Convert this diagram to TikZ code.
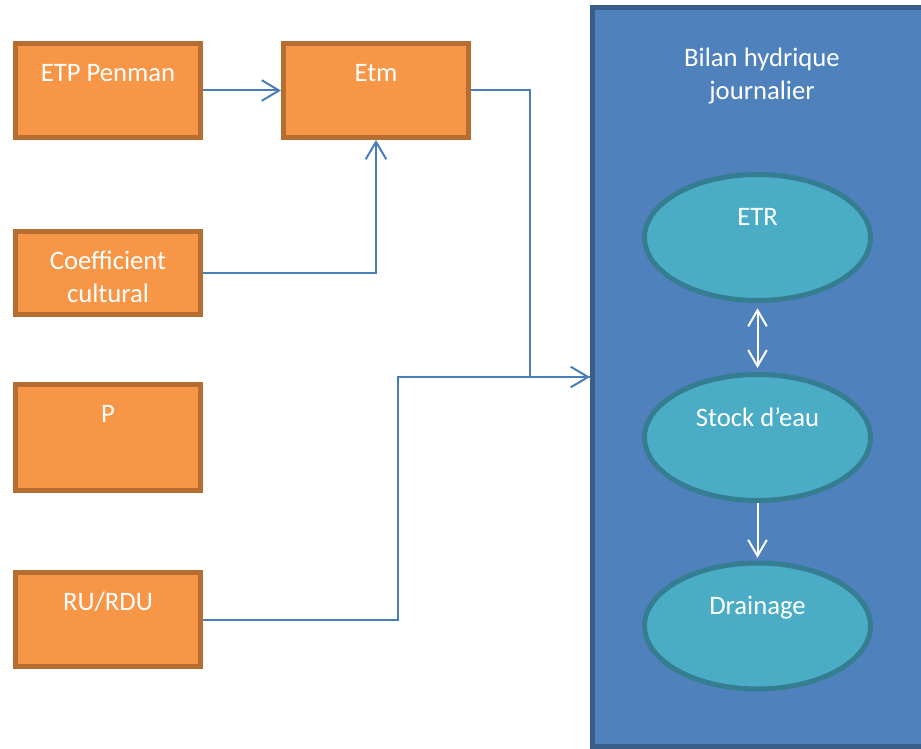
\documentclass[tikz,border=0pt]{standalone}
\usepackage{fontspec}
\setmainfont{Carlito}
\usetikzlibrary{arrows.meta,shapes.geometric}
\definecolor{orfill}{HTML}{F79646}
\definecolor{ordraw}{HTML}{B66D31}
\definecolor{blfill}{HTML}{4F81BD}
\definecolor{bldraw}{HTML}{385D8A}
\definecolor{elfill}{HTML}{4BACC6}
\definecolor{eldraw}{HTML}{357D91}
\definecolor{lnblue}{HTML}{4A7EBB}
\tikzset{
  obox/.style={rectangle, fill=orfill, draw=ordraw, line width=3.6pt, inner sep=0pt,
    minimum width=138.9pt},
  bigbox/.style={rectangle, fill=blfill, draw=bldraw, line width=3.75pt, inner sep=0pt,
    minimum width=253.125pt, minimum height=554.25pt},
  ell/.style={ellipse, fill=elfill, draw=eldraw, line width=3.75pt, inner sep=0pt,
    minimum width=169.5pt, minimum height=94.5pt},
  txt/.style={text=white, font=\fontsize{20}{24.5}\selectfont, inner sep=0pt, anchor=base, align=center},
  conn/.style={draw=lnblue, line width=1.5pt, -{Straight Barb[length=13pt,width=15.5pt]}},
  conn0/.style={draw=lnblue, line width=1.5pt},
  warr/.style={draw=white, line width=1.5pt}
}
\begin{document}
\begin{tikzpicture}[x=0.75pt,y=-0.75pt]
\useasboundingbox (0,0) rectangle (921,749);
% boxes
\node[obox, minimum height=70.65pt] (etp) at (108,90.5) {};
\node[obox, minimum height=70.65pt] (etm) at (376,90.5) {};
\node[obox, minimum height=62.4pt] (coef) at (108,273) {};
\node[obox, minimum height=79.65pt] (p) at (108,437.5) {};
\node[obox, minimum height=70.65pt] (ru) at (108,619.5) {};
\node[bigbox] (bilan) at (761.25,377) {};
\node[ell] (etr) at (757.5,237.5) {};
\node[ell] (stock) at (757.5,437.5) {};
\node[ell] (drain) at (757.5,626) {};
% texts (base anchor = baseline of last line)
\node[txt] (tetp) at (108,82) {ETP Penman};
\node[txt] (tetm) at (376,82) {Etm};
\node[txt] (tcoef) at (108,302) {Coefficient\\cultural};
\node[txt] (tp) at (108,422) {P};
\node[txt] (tru) at (108,610) {RU/RDU};
\node[txt] (tbilan) at (762,99.5) {Bilan hydrique\\journalier};
\node[txt] (tetr) at (757.5,225) {ETR};
\node[txt] (tstock) at (757.5,426) {Stock d’eau};
\node[txt] (tdrain) at (757.5,614) {Drainage};
% connectors
\draw[conn] (etp.east) -- (etm.west);
\draw[conn] (coef.east) -| (etm.south);
\draw[conn0] (etm.east) -- ++(59,0) |- (bilan.west);
\draw[conn] (ru.east) -- ++(195,0) |- (bilan.west);
\draw[warr, {Straight Barb[length=12pt,width=14pt]}-{Straight Barb[length=12pt,width=14pt]}, shorten <=4pt, shorten >=3pt] (etr.south) -- (stock.north);
\draw[warr, -{Straight Barb[length=12pt,width=14pt]}, shorten >=2pt] (stock.south) -- (drain.north);
\end{tikzpicture}
\end{document}
